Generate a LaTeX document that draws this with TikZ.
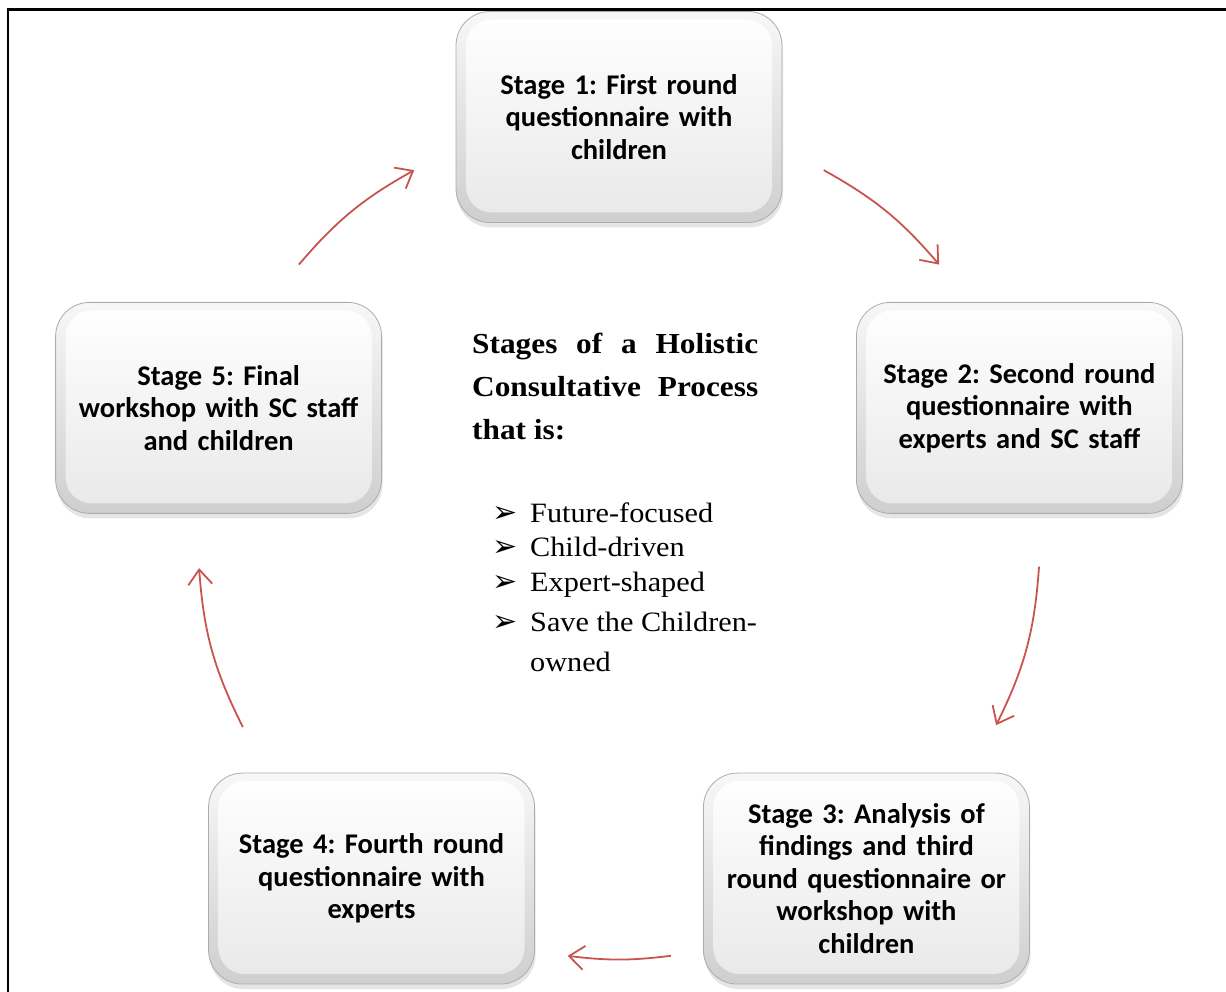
\documentclass[tikz,border=0pt]{standalone}
\usepackage{fontspec}
\usetikzlibrary{arrows.meta,shadows,positioning}

\newfontfamily\stagefont{Carlito}
\newfontfamily\bodyfont[FakeStretch=1.08]{Liberation Serif}
\newfontfamily\symbfont{DejaVu Sans}
\definecolor{cycred}{RGB}{200,84,80}
\frenchspacing
\tolerance=10000

\tikzset{
  stage/.style={rounded corners=34pt, minimum width=326pt, minimum height=211pt,
    text width=300pt, align=center, inner sep=0pt,
    font=\stagefont\bfseries\fontsize{28.5}{32.5}\selectfont,
    top color=gray!6, bottom color=gray!38, draw=gray!65, line width=0.8pt,
    drop shadow={shadow xshift=1pt, shadow yshift=-5pt, opacity=0.25, fill=gray!80},
    path picture={
      \shade[rounded corners=26pt, top color=white, bottom color=gray!18]
        ([shift={(10pt,10pt)}]path picture bounding box.south west) rectangle
        ([shift={(-10pt,-8pt)}]path picture bounding box.north east);}},
  heading/.style={text width=286pt, align=justify, inner sep=0pt,
    font=\bodyfont\bfseries\fontsize{29}{43}\selectfont},
  item/.style={inner sep=0pt, font=\bodyfont\fontsize{28}{34}\selectfont},
  bullet/.style={inner sep=0pt, font=\symbfont\fontsize{30}{34}\selectfont},
  cyc/.style={draw=cycred, line width=1.8pt,
    -{Straight Barb[length=15pt, width=24pt, line width=1.8pt]}},
}

\begin{document}
\begin{tikzpicture}[x=1pt, y=1pt]
  \def\R{421};
  \useasboundingbox (0,0) rectangle (1226,992);

  % frame
  \draw[line width=2.2pt] (8,0) -- (8,982.5) -- (1226,982.5);

  \coordinate (ctr) at (619,454);

  % stages
  \node[stage] (s1) at ([shift={(90:\R)}]ctr)
    {Stage 1: First round\\questionnaire with\\children};
  \node[stage] (s2) at ([shift={(18:\R)}]ctr)
    {Stage 2: Second round\\questionnaire with\\experts and SC staff};
  \node[stage] (s3) at ([shift={(-54:\R)}]ctr)
    {Stage 3: Analysis of\\findings and third\\round questionnaire or\\workshop with\\children};
  \node[stage] (s4) at ([shift={(-126:\R)}]ctr)
    {Stage 4: Fourth round\\questionnaire with\\experts};
  \node[stage] (s5) at ([shift={(162:\R)}]ctr)
    {Stage 5: Final\\workshop with SC staff\\and children};

  % arrow ends on the cycle
  \coordinate (from12) at ([shift={(60.9:\R)}]ctr);
  \coordinate (to12)   at ([shift={(40.5:\R)}]ctr);
  \coordinate (from23) at ([shift={(-3.9:\R)}]ctr);
  \coordinate (to23)   at ([shift={(-26.4:\R)}]ctr);
  \coordinate (from34) at ([shift={(-82.9:\R)}]ctr);
  \coordinate (to34)   at ([shift={(-97.0:\R)}]ctr);
  \coordinate (from45) at ([shift={(-153.3:\R)}]ctr);
  \coordinate (to45)   at ([shift={(-175.9:\R)}]ctr);
  \coordinate (from51) at ([shift={(139.5:\R)}]ctr);
  \coordinate (to51)   at ([shift={(119.1:\R)}]ctr);

  % arrows
  \draw[cyc] (from12) to[bend left=10.2] (to12);
  \draw[cyc] (from23) to[bend left=11.25] (to23);
  \draw[cyc] (from34) to[bend left=7.05] (to34);
  \draw[cyc] (from45) to[bend left=11.3] (to45);
  \draw[cyc] (from51) to[bend left=10.2] (to51);

  % centre text
  \node[heading, anchor=north west] (title) at (472,659)
    {Stages of a Holistic Consultative Process that is:};

  \node[item, anchor=base west] (f1) at (530,469) {Future-focused};
  \node[item, anchor=base west] (f2) at (530,435) {Child-driven};
  \node[item, anchor=base west] (f3) at (530,400) {Expert-shaped};
  \node[item, anchor=base west] (f4) at (530,360) {Save the Children-};
  \node[item, anchor=base west] (f5) at (530,320) {owned};
  \node[bullet, anchor=base west] (b1) at (492,469) {➢};
  \node[bullet, anchor=base west] (b2) at (492,435) {➢};
  \node[bullet, anchor=base west] (b3) at (492,400) {➢};
  \node[bullet, anchor=base west] (b4) at (492,360) {➢};
\end{tikzpicture}
\end{document}
